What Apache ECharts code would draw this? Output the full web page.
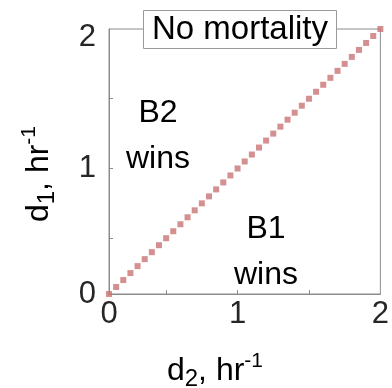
<!DOCTYPE html>
<html>
<head>
<meta charset="utf-8">
<script src="https://cdn.jsdelivr.net/npm/echarts@6/dist/echarts.min.js"></script>
<style>
  html, body { margin: 0; padding: 0; background: #fff; }
  #chart { width: 392px; height: 388px; }
</style>
</head>
<body>
<div id="chart"></div>
<script>
// Coexistence boundary between the two populations: d1 = d2 (hr^-1)
const d2Values = [0.10, 0.15, 0.20, 0.25, 0.30, 0.35, 0.40, 0.45, 0.50, 0.55,
                  0.60, 0.65, 0.70, 0.75, 0.80, 0.85, 0.90, 0.95, 1.00, 1.05,
                  1.10, 1.15, 1.20, 1.25, 1.30, 1.35, 1.40, 1.45, 1.50, 1.55,
                  1.60, 1.65, 1.70, 1.75, 1.80, 1.85, 1.90, 1.95, 2.00];
const d1Values = [0.10, 0.15, 0.20, 0.25, 0.30, 0.35, 0.40, 0.45, 0.50, 0.55,
                  0.60, 0.65, 0.70, 0.75, 0.80, 0.85, 0.90, 0.95, 1.00, 1.05,
                  1.10, 1.15, 1.20, 1.25, 1.30, 1.35, 1.40, 1.45, 1.50, 1.55,
                  1.60, 1.65, 1.70, 1.75, 1.80, 1.85, 1.90, 1.95, 2.00];

const axisMin = 0.1;
const axisMax = 2;
const labelValues = [0.1, 1, 2];
const labelTexts = ['0', '1', '2'];
const tickValues = [0.5, 1, 1.5];

const titleText = 'No mortality';
const regionTexts = ['B2\nwins', 'B1\nwins'];

const FONT = '"Liberation Sans", Arial, Helvetica, sans-serif';
const AXIS_GRAY = '#8c8c8c';
const TEXT_DARK = '#262626';
const MARK_COLOR = '#c97474';

function labelIndex(v) {
  let best = 0;
  for (let i = 1; i < labelValues.length; i++) {
    if (Math.abs(labelValues[i] - v) < Math.abs(labelValues[best] - v)) best = i;
  }
  return best;
}

const axisRich = {
  m:   { fontFamily: FONT, fontSize: 32, color: TEXT_DARK, lineHeight: 40, verticalAlign: 'middle' },
  sub: { fontFamily: FONT, fontSize: 24, color: TEXT_DARK, lineHeight: 21, verticalAlign: 'bottom' },
  sup: { fontFamily: FONT, fontSize: 21, color: TEXT_DARK, lineHeight: 27, verticalAlign: 'top' }
};

function valueAxis(isY) {
  return {
    type: 'value',
    min: axisMin,
    max: axisMax,
    axisLine: { show: true, lineStyle: { color: AXIS_GRAY, width: 1 } },
    axisTick: {
      show: true, inside: true, length: 4,
      customValues: tickValues,
      lineStyle: { color: AXIS_GRAY, width: 1 }
    },
    axisLabel: {
      customValues: labelValues,
      // the top label on the vertical axis sits a little below the frame edge
      formatter: function (v) {
        const i = labelIndex(v);
        return (isY && i === labelValues.length - 1) ? '{low|' + labelTexts[i] + '}' : labelTexts[i];
      },
      rich: { low: { fontFamily: FONT, fontSize: 31, color: TEXT_DARK, padding: [16, 0, 0, 0] } },
      margin: isY ? 13 : 5,
      fontFamily: FONT,
      fontSize: 31,
      color: TEXT_DARK
    },
    splitLine: { show: false }
  };
}

const chart = echarts.init(document.getElementById('chart'), null, { renderer: 'canvas' });

chart.setOption({
  animation: false,
  title: {
    text: titleText,
    left: 143,
    top: 10,
    padding: [3, 9, 3, 9],
    borderColor: '#9a9a9a',
    borderWidth: 1,
    backgroundColor: '#ffffff',
    z: 10,
    textStyle: { fontFamily: FONT, fontSize: 33, fontWeight: 'normal', color: '#000', lineHeight: 33 }
  },
  grid: {
    left: 109, right: 2, top: 29, bottom: 94,
    show: true, borderColor: AXIS_GRAY, borderWidth: 1, backgroundColor: 'transparent'
  },
  xAxis: valueAxis(false),
  yAxis: valueAxis(true),
  series: [{
    type: 'scatter',
    symbol: 'rect',
    symbolSize: 6,
    itemStyle: { color: MARK_COLOR },
    data: d2Values.map((x, i) => [x, d1Values[i]])
  }],
  graphic: [
    {
      type: 'text', x: 158, y: 136,
      style: { text: regionTexts[0], fontFamily: FONT, fontSize: 32, lineHeight: 46,
               fill: '#000', align: 'center', verticalAlign: 'middle' }
    },
    {
      type: 'text', x: 266, y: 252,
      style: { text: regionTexts[1], fontFamily: FONT, fontSize: 32, lineHeight: 46,
               fill: '#000', align: 'center', verticalAlign: 'middle' }
    },
    {
      type: 'text', x: 215, y: 371,
      style: { text: '{m|d}{sub|2}{m|, hr}{sup|-1}', rich: axisRich,
               align: 'center', verticalAlign: 'middle' }
    },
    {
      type: 'text', x: 39, y: 174, rotation: Math.PI / 2,
      style: { text: '{m|d}{sub|1}{m|, hr}{sup|-1}', rich: axisRich,
               align: 'center', verticalAlign: 'middle' }
    }
  ]
});
</script>
</body>
</html>
